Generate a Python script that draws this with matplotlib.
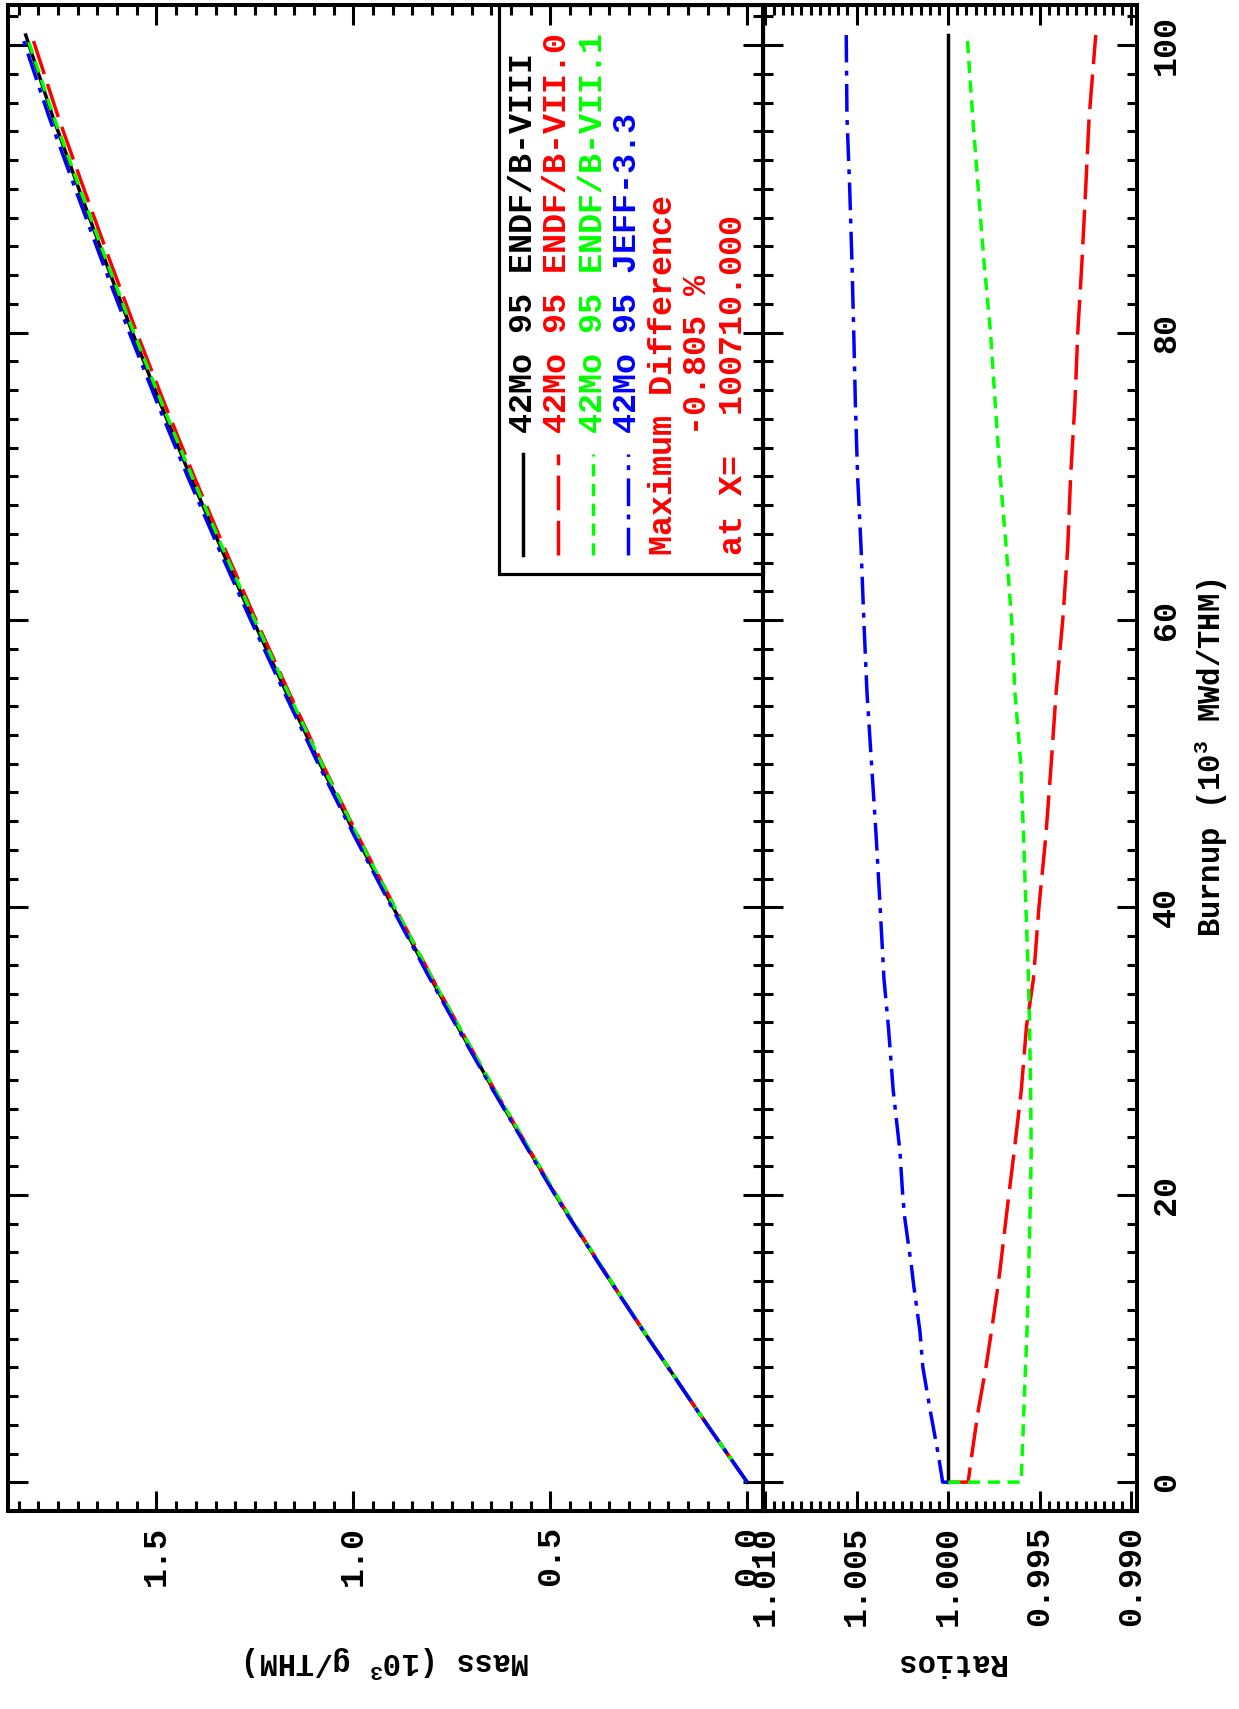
import matplotlib
matplotlib.use("Agg")
import matplotlib.pyplot as plt
from matplotlib.ticker import MultipleLocator, FormatStrFormatter
from matplotlib.lines import Line2D
from matplotlib.patches import Rectangle

plt.rcParams['font.family'] = ['Liberation Mono', 'DejaVu Sans']
plt.rcParams['font.weight'] = 'bold'
plt.rcParams['mathtext.fontset'] = 'custom'
plt.rcParams['mathtext.rm'] = 'Liberation Mono:bold'
plt.rcParams['mathtext.it'] = 'Liberation Mono:bold'
plt.rcParams['mathtext.bf'] = 'Liberation Mono:bold'

# burnup (10^3 MWd/THM)
burnup = [0, 0.01, 2, 5, 8, 10.5, 13.7, 15, 18.5, 20, 23, 27.3, 31.7, 35, 40, 45,
          50, 55, 60, 65, 70, 75, 80, 85, 90, 95, 100.71]

# mass (10^3 g/THM)
mass_viii = [0, 0.0003, 0.051, 0.127, 0.201, 0.263, 0.340, 0.371, 0.453, 0.487, 0.552,
             0.644, 0.735, 0.802, 0.899, 0.994, 1.085, 1.171, 1.255, 1.336, 1.414,
             1.489, 1.561, 1.630, 1.697, 1.763, 1.832]
mass_vii0 = [0, 0.0003, 0.0509, 0.1268, 0.2006, 0.2624, 0.3391, 0.3699, 0.4516, 0.4854,
             0.5500, 0.6414, 0.7319, 0.7983, 0.8945, 0.9887, 1.0789, 1.1641, 1.2472,
             1.3273, 1.4046, 1.4787, 1.5500, 1.6181, 1.6843, 1.7494, 1.8172]
mass_vii1 = [0, 0.0003, 0.0508, 0.1265, 0.2002, 0.2619, 0.3385, 0.3694, 0.4510, 0.4848,
             0.5495, 0.6411, 0.7317, 0.7985, 0.8952, 0.9899, 1.0807, 1.1667, 1.2507,
             1.3318, 1.4100, 1.4852, 1.5574, 1.6268, 1.6942, 1.7606, 1.8301]
mass_jeff = [0, 0.0003, 0.0510, 0.1271, 0.2013, 0.2634, 0.3406, 0.3717, 0.4541, 0.4882,
             0.5535, 0.6459, 0.7374, 0.8048, 0.9023, 0.9979, 1.0895, 1.1762, 1.2608,
             1.3423, 1.4210, 1.4965, 1.5690, 1.6386, 1.7061, 1.7727, 1.8422]

# ratios to ENDF/B-VIII
ratio_viii = [1.0] * len(burnup)
ratio_vii0 = [1.0, 0.99891, 0.99870, 0.99836, 0.99794, 0.99764, 0.99728, 0.99715,
              0.99683, 0.99669, 0.99640, 0.99601, 0.99573, 0.99535, 0.99505, 0.99467,
              0.99438, 0.99411, 0.99375, 0.99348, 0.99332, 0.99309, 0.99293, 0.99270,
              0.99250, 0.99231, 0.99195]
ratio_vii1 = [1.0, 0.99602, 0.99596, 0.99587, 0.99578, 0.99570, 0.99563, 0.99560,
              0.99554, 0.99551, 0.99547, 0.99550, 0.99556, 0.99562, 0.99576, 0.99589,
              0.99604, 0.99636, 0.99654, 0.99683, 0.99716, 0.99743, 0.99769, 0.99805,
              0.99836, 0.99866, 0.99897]
ratio_jeff = [1.0, 1.00030, 1.00055, 1.00098, 1.00138, 1.00154, 1.00188, 1.00200,
              1.00238, 1.00248, 1.00263, 1.00300, 1.00326, 1.00350, 1.00371, 1.00393,
              1.00418, 1.00443, 1.00460, 1.00475, 1.00494, 1.00506, 1.00515, 1.00525,
              1.00537, 1.00552, 1.00556]

labels = ['42Mo 95 ENDF/B-VIII', '42Mo 95 ENDF/B-VII.0',
          '42Mo 95 ENDF/B-VII.1', '42Mo 95 JEFF-3.3']
colors = ['black', '#ff0000', '#00ff00', '#0000ff']
styles = ['-', (0, (10, 3)), (0, (3.5, 2.2)), (0, (8, 2.4, 1.4, 2.4))]
masses = [mass_viii, mass_vii0, mass_vii1, mass_jeff]
ratios = [ratio_viii, ratio_vii0, ratio_vii1, ratio_jeff]

W, H = 1239, 1709
fig = plt.figure(figsize=(W / 100, H / 100), dpi=100)
top, bot = 5, 1511
ax1 = fig.add_axes([8 / W, (H - bot) / H, (763 - 8) / W, (bot - top) / H])
ax2 = fig.add_axes([763 / W, (H - bot) / H, (1137 - 763) / W, (bot - top) / H])

lw = 2.5
for m, r, c, s in zip(masses, ratios, colors, styles):
    ax1.plot(m, burnup, color=c, linestyle=s, lw=lw)
    ax2.plot(r, burnup, color=c, linestyle=s, lw=lw)

ax1.set_xlim(1.877, -0.04)
ax2.set_xlim(1.0101, 0.9897)
ax1.xaxis.set_major_locator(MultipleLocator(0.5))
ax1.xaxis.set_minor_locator(MultipleLocator(0.05))
ax1.xaxis.set_major_formatter(FormatStrFormatter('%.1f'))
ax2.xaxis.set_major_locator(MultipleLocator(0.005))
ax2.xaxis.set_minor_locator(MultipleLocator(0.0005))
ax2.xaxis.set_major_formatter(FormatStrFormatter('%.3f'))

for ax in (ax1, ax2):
    ax.set_ylim(-2, 102.8)
    ax.yaxis.set_major_locator(MultipleLocator(20))
    ax.yaxis.set_minor_locator(MultipleLocator(2))
    ax.tick_params(which='both', direction='in', top=True, bottom=True,
                   left=True, right=True, width=2.2)
    ax.tick_params(which='major', length=14.5)
    ax.tick_params(which='minor', length=7.2)
    ax.tick_params(axis='x', labelsize=24, labelrotation=90, pad=11)
    for sp in ax.spines.values():
        sp.set_linewidth(2.9)

ax1.tick_params(axis='y', labelleft=False, labelright=False)
ax2.tick_params(axis='y', labelleft=False, labelright=True, labelsize=24,
                labelrotation=90, pad=10)
for t in ax2.yaxis.get_major_ticks():
    t.label2.set_verticalalignment('center')

# axis titles
fig.text(387 / W, (H - 1662) / H, 'Mass (10$^3$ g/THM)', rotation=180,
         ha='center', va='center', fontsize=22)
fig.text(950 / W, (H - 1662) / H, 'Ratios', rotation=180,
         ha='center', va='center', fontsize=22)
fig.text(1211 / W, (H - 758) / H, 'Burnup (10$^3$ MWd/THM)', rotation=90,
         ha='center', va='center', fontsize=22)

# legend box
fig.patches.append(Rectangle((499 / W, (H - 574) / H), (763 - 499) / W, (574 - 5) / H,
                             transform=fig.transFigure, fill=False, lw=2.3,
                             edgecolor='black', zorder=5))
cols = [523, 558, 593, 628]
for x, lab, c, s in zip(cols, labels, colors, styles):
    fig.add_artist(Line2D([x / W, x / W], [(H - 555) / H, (H - 454) / H],
                          transform=fig.transFigure, color=c, linestyle=s, lw=lw))
    fig.text(x / W, (H - 433) / H, lab, color=c, rotation=90,
             rotation_mode='anchor', ha='left', va='center', fontsize=24)

notes = ['Maximum Difference', '      -0.805 %', 'at X=  100710.000']
for x, txt in zip([663, 698, 733], notes):
    fig.text(x / W, (H - 555) / H, txt, color='#ff0000', rotation=90,
             rotation_mode='anchor', ha='left', va='center', fontsize=24)

fig.savefig('out.png', dpi=100)
